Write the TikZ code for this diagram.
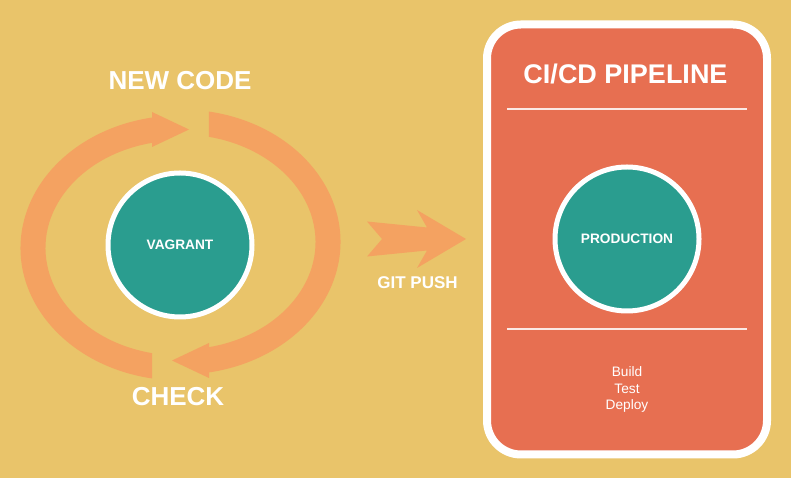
\documentclass[tikz,border=0pt]{standalone}
\usepackage{fontspec}
\setmainfont{Liberation Sans}
\definecolor{sand}{HTML}{E9C46A}
\definecolor{peach}{HTML}{F4A261}
\definecolor{coral}{HTML}{E76F51}
\definecolor{jade}{HTML}{2A9D8F}
\newcommand{\fsz}[1]{\fontsize{#1}{#1}\selectfont}

\begin{document}
\begin{tikzpicture}[x=1pt,y=1pt]
\tikzstyle{env}=[circle,minimum size=144pt,line width=5pt,draw=white,fill=jade,text=white,font=\fsz{13.7}\bfseries]
\tikzstyle{lbl}=[text=white,font=\fsz{26}\bfseries]
\tikzstyle{band}=[fill=peach]
\tikzstyle{divider}=[draw=white!85!coral,line width=2pt]
\fill[sand] (0,0) rectangle (791,478);
\path[use as bounding box] (0,0) rectangle (791,478);
% local loop
\node[env] (vagrant) at (180,233) {VAGRANT};
\node[lbl] (newcode) at (180,397) {NEW CODE};
\node[lbl] (check) at (178,81) {CHECK};
\foreach \turn in {0,180}{
  \begin{scope}[rotate around={\turn:(180.5,233)},shift={(180,230)}]
    \fill[band] (259.9:159.5 and 132.5) arc[start angle=259.9,end angle=100.1,x radius=159.5,y radius=132.5]
      -- (102:134.5 and 107.5) arc[start angle=102,end angle=258,x radius=134.5,y radius=107.5] -- cycle;
    \fill[band] (-28,136) -- (9,118.5) -- (-28,101) -- cycle;
  \end{scope}
}
% push
\fill[band] (367,256.5) -- (427,250.5) -- (417,268) -- (466,239) -- (417,210) -- (427,227.5) -- (367,221.5) -- (382,239) -- cycle;
\node[lbl,font=\fsz{17}\bfseries] (gitpush) at (417.5,195) {GIT PUSH};
% pipeline
\node[rectangle,rounded corners=34pt,minimum width=280pt,minimum height=430pt,line width=8pt,draw=white,fill=coral] (pipeline) at (627,238.5) {};
\node[lbl,font=\fsz{27}\bfseries] (title) at (625.5,404) {CI/CD PIPELINE};
\draw[divider] (507,369) -- (747,369);
\draw[divider] (507,149) -- (747,149);
\node[env] (production) at (627,239) {PRODUCTION};
\node[text=white,align=center,font={\fontsize{13.7}{16.5}\selectfont}] (steps) at (627,88.5) {Build\\Test\\Deploy};
\end{tikzpicture}
\end{document}
